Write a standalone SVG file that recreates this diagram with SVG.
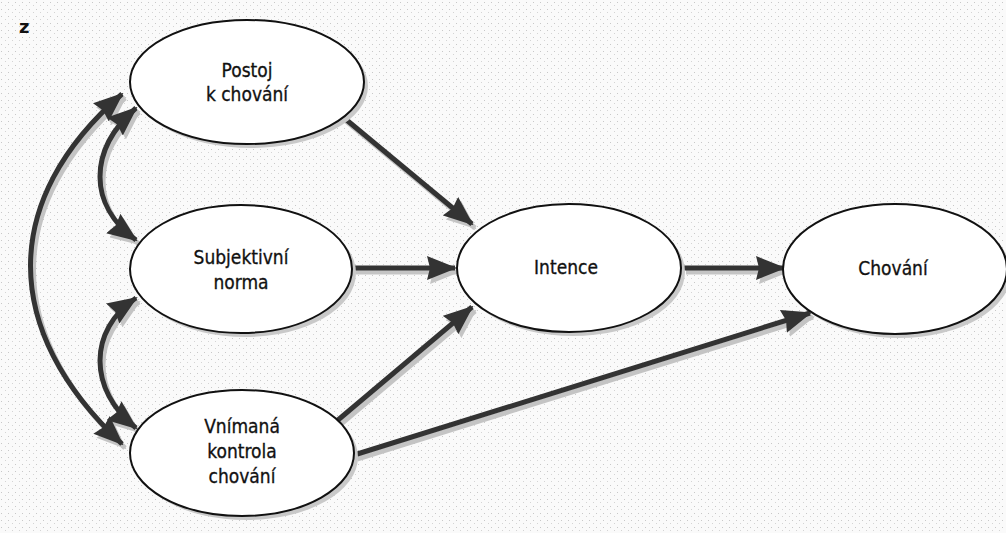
<svg xmlns="http://www.w3.org/2000/svg" width="1006" height="533" viewBox="0 0 1006 533">
<defs>
<pattern id="dots" width="7" height="7" patternUnits="userSpaceOnUse">
<rect width="7" height="7" fill="#fafafa"/>
<rect x="1" y="2" width="1" height="1" fill="#c8c8c8"/>
<rect x="5" y="5" width="1" height="1" fill="#d4d4d4"/>
</pattern>
<marker id="ah" viewBox="0 0 30 24" refX="28" refY="12" markerWidth="30" markerHeight="24" markerUnits="userSpaceOnUse" orient="auto-start-reverse">
<path d="M0,0 L30,12 L0,24 L3,12 Z" fill="#333"/>
</marker>
<marker id="ahs" viewBox="0 0 30 24" refX="28" refY="12" markerWidth="30" markerHeight="24" markerUnits="userSpaceOnUse" orient="auto-start-reverse">
<path d="M0,0 L30,12 L0,24 L3,12 Z" fill="#c4c4c4"/>
</marker>
</defs>
<style>
.node ellipse.b{fill:#fff;stroke:#111;stroke-width:2}
.node ellipse.s{fill:#c9c9c9}
.node text{font-family:"DejaVu Sans Condensed","Liberation Sans Narrow","Liberation Sans",sans-serif;font-size:19px;fill:#111;stroke:#111;stroke-width:0.3;text-anchor:middle}
.c{fill:none;stroke:#333;stroke-width:5;marker-end:url(#ah)}
.c.d{marker-start:url(#ah)}
.sh{fill:none;stroke:#c4c4c4;stroke-width:5;marker-end:url(#ahs)}
.sh.d{marker-start:url(#ahs)}
</style>
<rect width="1006" height="533" fill="url(#dots)"/>
<text x="19" y="33" font-family="DejaVu Sans" font-weight="bold" font-size="18" fill="#111">z</text>
<g id="connectors">
<g transform="translate(3,4)">
<path class="sh" d="M343,117 L472,224"/>
<path class="sh" d="M353,268 L455,268"/>
<path class="sh" d="M338,420 L472,307"/>
<path class="sh" d="M683,268 L784,268"/>
<path class="sh" d="M354,455 L810,313"/>
<path class="sh d" d="M122,94 C0,200 0,330 122,444"/>
<path class="sh d" d="M136,108 C88,150 88,205 136,240"/>
<path class="sh d" d="M136,298 C88,330 88,390 136,428"/>
</g>
<path class="c" d="M343,117 L472,224"/>
<path class="c" d="M353,268 L455,268"/>
<path class="c" d="M338,420 L472,307"/>
<path class="c" d="M683,268 L784,268"/>
<path class="c" d="M354,455 L810,313"/>
<path class="c d" d="M122,94 C0,200 0,330 122,444"/>
<path class="c d" d="M136,108 C88,150 88,205 136,240"/>
<path class="c d" d="M136,298 C88,330 88,390 136,428"/>
</g>
<g id="postoj" class="node">
<ellipse class="s" cx="251" cy="86" rx="117" ry="62"/>
<ellipse class="b" cx="247" cy="82" rx="117" ry="62"/>
<text x="247" y="77">Postoj</text>
<text x="247" y="101">k chování</text>
</g>
<g id="subjektivni" class="node">
<ellipse class="s" cx="245" cy="273" rx="111" ry="64"/>
<ellipse class="b" cx="241" cy="269" rx="111" ry="64"/>
<text x="241" y="264">Subjektivní</text>
<text x="241" y="289">norma</text>
</g>
<g id="vnimana" class="node">
<ellipse class="s" cx="246" cy="457" rx="112" ry="63"/>
<ellipse class="b" cx="242" cy="453" rx="112" ry="63"/>
<text x="242" y="433">Vnímaná</text>
<text x="242" y="458">kontrola</text>
<text x="242" y="483">chování</text>
</g>
<g id="intence" class="node">
<ellipse class="s" cx="573" cy="272" rx="112" ry="64"/>
<ellipse class="b" cx="569" cy="268" rx="112" ry="64"/>
<text x="566" y="274">Intence</text>
</g>
<g id="chovani" class="node">
<ellipse class="s" cx="899" cy="273" rx="112" ry="65"/>
<ellipse class="b" cx="895" cy="269" rx="112" ry="65"/>
<text x="893" y="275">Chování</text>
</g>
</svg>
